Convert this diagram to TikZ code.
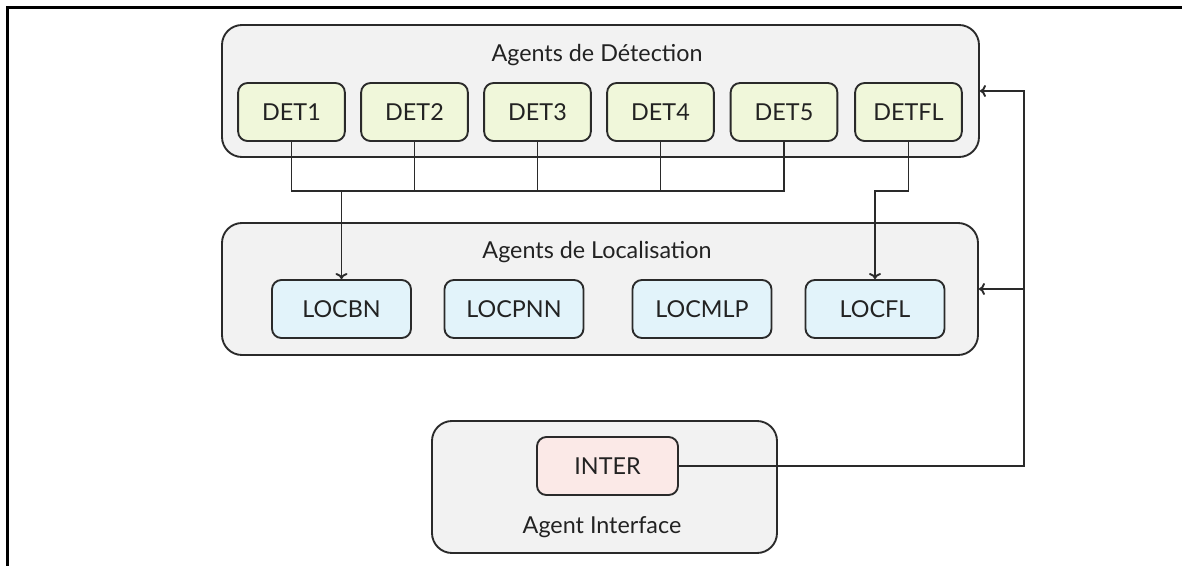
\documentclass[tikz,border=0pt]{standalone}
\usepackage{fontspec}
\setmainfont{Lato}
\usetikzlibrary{arrows.meta}
\definecolor{grpfill}{HTML}{F2F2F2}
\definecolor{detfill}{HTML}{F0F7DA}
\definecolor{locfill}{HTML}{E2F3FA}
\definecolor{intfill}{HTML}{FBE9E7}
\definecolor{txt}{HTML}{222222}
\definecolor{ln}{HTML}{2A2A2A}
\tikzset{
  grp/.style={draw=ln, line width=1.4pt, fill=grpfill, rounded corners=15pt, minimum height=99pt, inner sep=0pt},
  abox/.style={draw=ln, line width=1.4pt, rounded corners=7pt, minimum height=43.5pt, inner sep=0pt, text=txt, font=\fontsize{17.5}{21}\selectfont},
  detbox/.style={abox, fill=detfill, minimum width=80pt},
  locbox/.style={abox, fill=locfill, minimum width=104.25pt},
  intbox/.style={abox, fill=intfill, minimum width=105.75pt},
  title/.style={text=txt, font=\fontsize{17.5}{21}\selectfont, inner sep=0pt},
  conn/.style={draw=ln, line width=1.4pt},
  arr/.style={conn, -{To[length=4.5pt,width=9pt]}}
}
\begin{document}
\begin{tikzpicture}[x=0.75pt,y=-0.75pt]
\useasboundingbox (0,0) rectangle (1182,565);
% frame
\draw[line width=2.25pt, black] (7,566) -- (7,7) -- (1183,7);
% groups
\node[grp, minimum width=567.75pt] (g1) at (600.5,91) {};
\node[grp, minimum width=567pt] (g2) at (600,289) {};
\node[grp, minimum width=258.75pt] (g3) at (604.5,487) {};
\node[title] (t1) at (597,55) {Agents de Détection};
\node[title] (t2) at (597,252) {Agents de Localisation};
\node[title] (t3) at (602,527) {Agent Interface};
% detection agents
\node[detbox] (d1) at (291.5,112) {DET1};
\node[detbox] (d2) at (414.5,112) {DET2};
\node[detbox] (d3) at (537.5,112) {DET3};
\node[detbox] (d4) at (660.5,112) {DET4};
\node[detbox] (d5) at (784,112) {DET5};
\node[detbox] (dfl) at (908.5,112) {DETFL};
% localisation agents
\node[locbox] (l1) at (341.5,309) {LOCBN};
\node[locbox] (l2) at (514,309) {LOCPNN};
\node[locbox] (l3) at (702,309) {LOCMLP};
\node[locbox] (lfl) at (875,309) {LOCFL};
% interface
\node[intbox] (inter) at (607.5,466) {INTER};
% bus
\coordinate (busy) at (0,191);
\draw[conn] (d1.south) -- (d1.south |- busy) -- (d5.south |- busy) -- (d5.south);
\draw[conn] (d2.south) -- (d2.south |- busy);
\draw[conn] (d3.south) -- (d3.south |- busy);
\draw[conn] (d4.south) -- (d4.south |- busy);
\draw[arr] (l1.north |- busy) -- (l1.north);
\draw[arr] (dfl.south) -- (dfl.south |- busy) -- (lfl.north |- busy) -- (lfl.north);
% right feedback bus
\coordinate (rb) at (1024,466);
\draw[arr] (inter.east) -- (rb) -- (rb |- g1.east) -- (g1.east);
\draw[arr] (rb |- g2.east) -- (g2.east);
\end{tikzpicture}
\end{document}
